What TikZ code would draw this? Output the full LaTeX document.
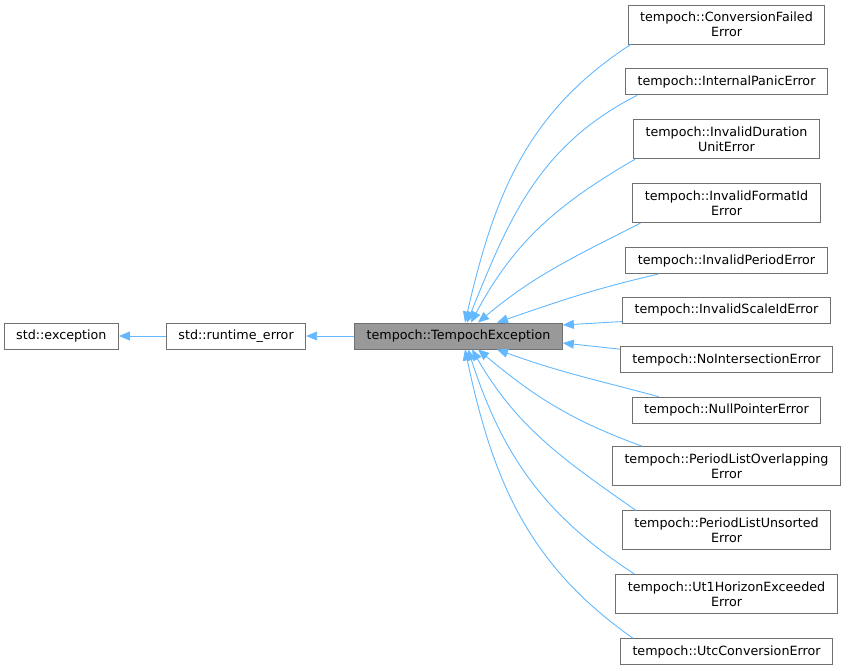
\documentclass[tikz,border=0pt]{standalone}
\usepackage{fontspec}
\setmainfont{DejaVu Sans}
\usepackage{tikz}
\usetikzlibrary{arrows.meta,positioning}
\definecolor{dxEdge}{HTML}{63B8FF}
\definecolor{dxBorder}{HTML}{707070}
\definecolor{dxMain}{HTML}{999999}

\begin{document}
\begin{tikzpicture}[
    x=1pt, y=1pt,
    box/.style={draw=dxBorder, fill=#1, line width=0.9pt, minimum height=26pt, inner xsep=12pt, inner ysep=2pt, align=center, font=\fontsize{12.7}{15}\selectfont},
    box/.default=white,
    tall/.style={box, minimum height=39pt},
    arr/.style={-{Triangle[length=11pt, width=9pt]}, draw=dxEdge, line width=0.9pt}
]
\useasboundingbox (0,0) rectangle (848,-670);

% base classes
\node[box=dxMain] (exc) at (458.5,-336) {tempoch::TempochException};
\node[box, left=48pt of exc] (rt) {std::runtime\_error};
\node[box, left=47pt of rt] (stdex) {std::exception};

% derived classes
\node[tall] (conv) at (726.5,-24.5) {tempoch::ConversionFailed\\Error};
\node[box, below=24pt of conv] (panic) {tempoch::InternalPanicError};
\node[tall, below=24pt of panic] (dur) {tempoch::InvalidDuration\\UnitError};
\node[tall, below=24pt of dur] (fmt) {tempoch::InvalidFormatId\\Error};
\node[box, below=24pt of fmt] (period) {tempoch::InvalidPeriodError};
\node[box, below=22.6pt of period] (scale) {tempoch::InvalidScaleIdError};
\node[box, below=22.6pt of scale] (noint) {tempoch::NoIntersectionError};
\node[box, below=23.6pt of noint] (null) {tempoch::NullPointerError};
\node[tall, below=22.6pt of null] (overlap) {tempoch::PeriodListOverlapping\\Error};
\node[tall, below=24.4pt of overlap] (unsorted) {tempoch::PeriodListUnsorted\\Error};
\node[tall, below=23.6pt of unsorted] (horizon) {tempoch::Ut1HorizonExceeded\\Error};
\node[box, below=24.4pt of horizon] (utc) {tempoch::UtcConversionError};

\draw[arr] (rt) -- (stdex);
\draw[arr] (exc) -- (rt);

% upper fan
\draw[arr] ([xshift=3pt]conv.south west) to[out=213, in=77] ([xshift=6.5pt]exc.north);
\draw[arr] ([xshift=12pt]panic.south west) to[out=207, in=68] ([xshift=8.5pt]exc.north);
\draw[arr] ([xshift=2pt]dur.south west) to[out=210, in=62] ([xshift=12.5pt]exc.north);
\draw[arr] ([xshift=8pt]fmt.south west) to[out=207, in=40] ([xshift=19.5pt]exc.north);
\draw[arr] ([xshift=33pt]period.south west) to[out=193, in=19] ([xshift=38.5pt]exc.north);
\draw[arr] ([yshift=2pt]scale.south west) -- ([yshift=11pt]exc.east);

% lower fan
\draw[arr] ([yshift=-3pt]noint.north west) -- ([yshift=-7pt]exc.east);
\draw[arr] ([xshift=27pt]null.north west) to[out=165, in=-20] ([xshift=38.5pt]exc.south);
\draw[arr] ([xshift=30pt]overlap.north west) to[out=160, in=-40] ([xshift=19.5pt]exc.south);
\draw[arr] ([xshift=14pt]unsorted.north west) to[out=145, in=-60] ([xshift=13.5pt]exc.south);
\draw[arr] ([xshift=19pt]horizon.north west) to[out=147, in=-72] ([xshift=9.5pt]exc.south);
\draw[arr] ([xshift=13pt]utc.north west) to[out=145, in=-78] ([xshift=6.5pt]exc.south);
\end{tikzpicture}
\end{document}
